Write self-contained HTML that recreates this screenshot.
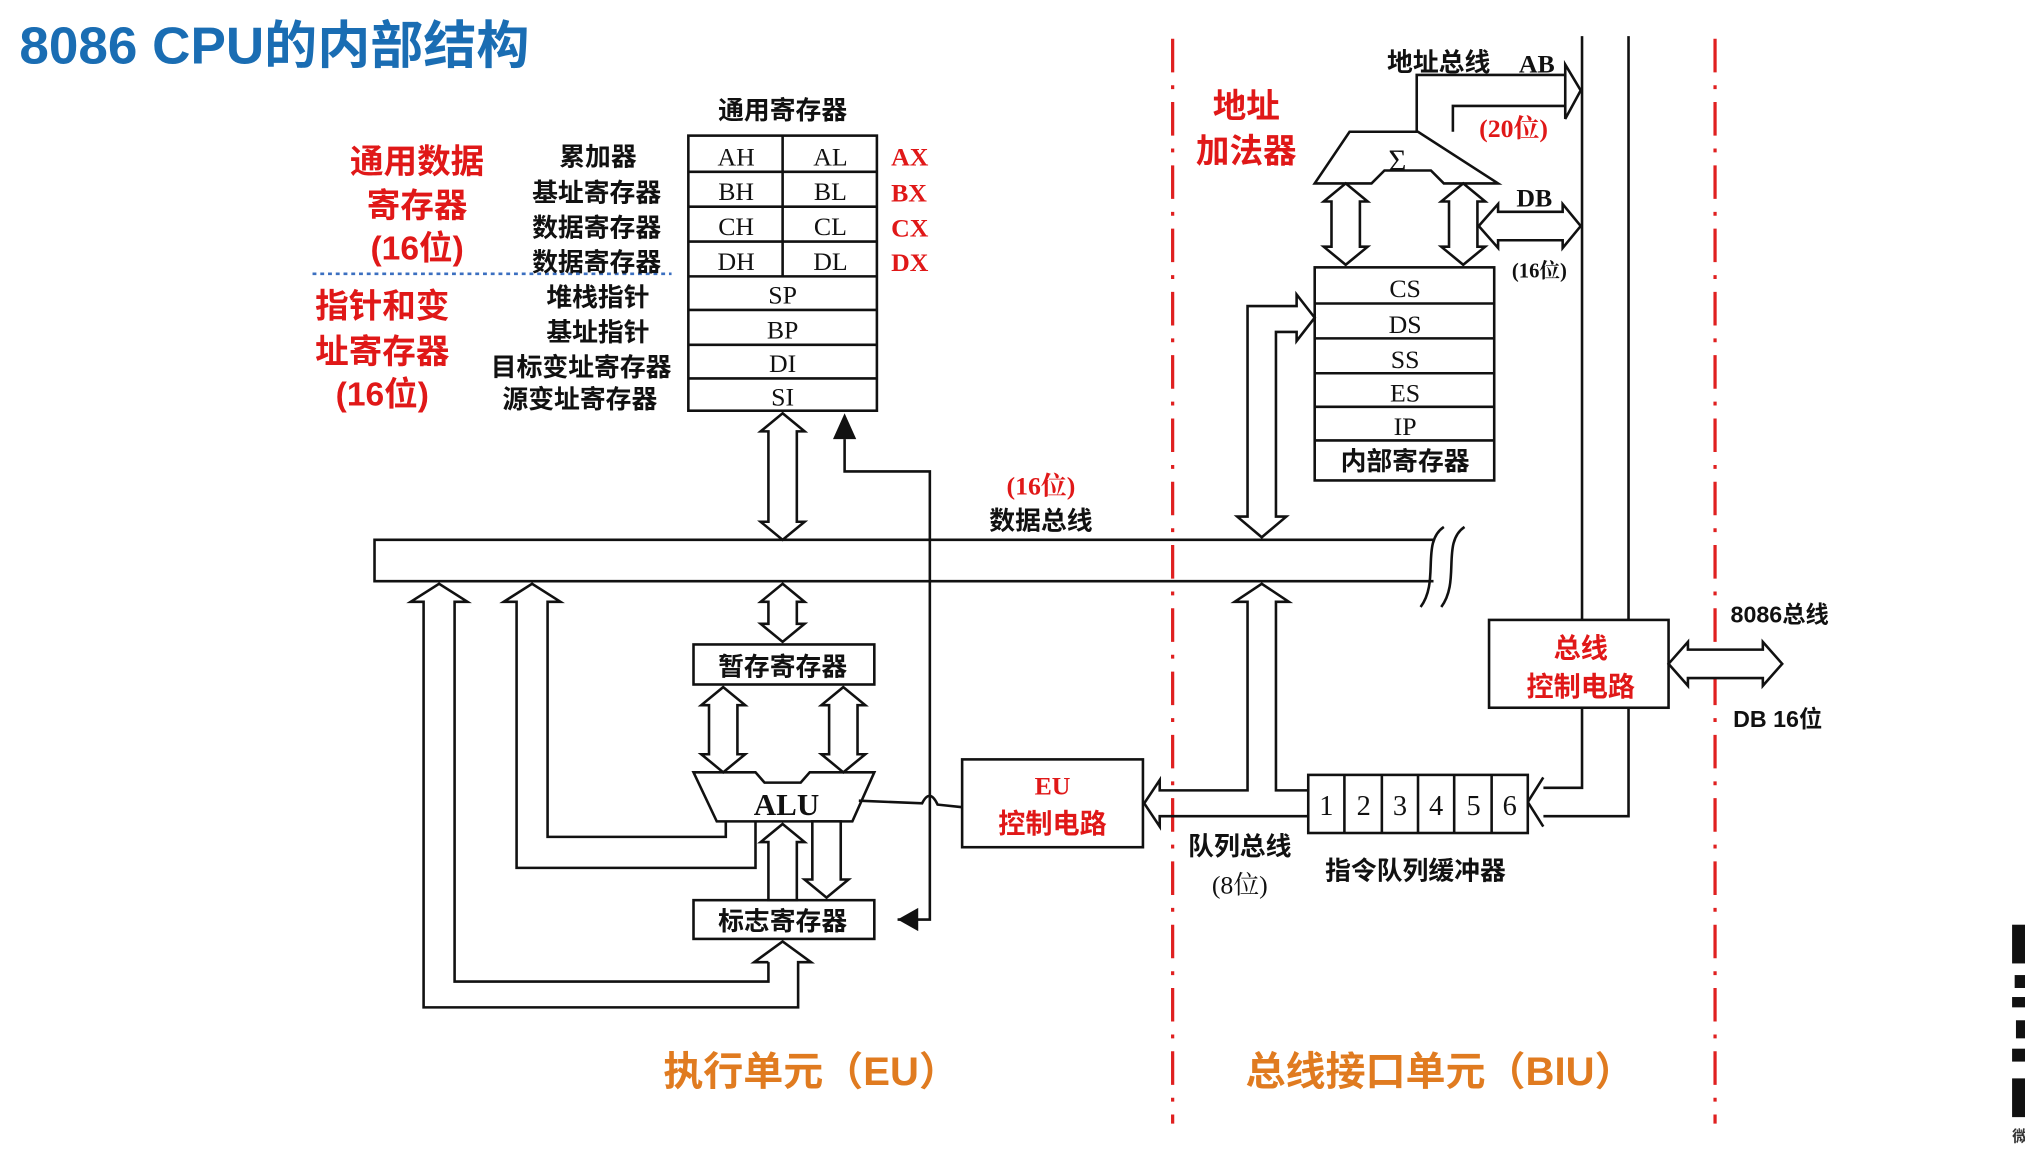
<!DOCTYPE html>
<html><head><meta charset="utf-8"><style>
html,body{margin:0;padding:0;background:#fff}
svg{display:block}
.cn{font-family:"Liberation Sans","Noto Sans CJK SC",sans-serif;font-weight:bold}
.sf{font-family:"Liberation Serif","Noto Serif CJK SC",serif}
</style></head><body>
<svg width="2025" height="1167" viewBox="0 0 1568 903.6" xmlns="http://www.w3.org/2000/svg">
<rect width="1568" height="904" fill="#fff"/>
<text x="15" y="49" class="cn" font-size="40" fill="#1a6db3" textLength="395" lengthAdjust="spacingAndGlyphs">8086 CPU的内部结构</text>

<g stroke="#e02020" stroke-width="2.5" stroke-dasharray="26,10,3,10" fill="none">
<line x1="908" y1="30" x2="908" y2="870"/>
<line x1="1328" y1="30" x2="1328" y2="870"/>
</g>

<g stroke="#111" stroke-width="2" fill="none">
<rect x="533" y="105" width="146" height="213" fill="#fff"/>
<line x1="533" y1="133" x2="679" y2="133"/><line x1="533" y1="160" x2="679" y2="160"/>
<line x1="533" y1="187" x2="679" y2="187"/><line x1="533" y1="214" x2="679" y2="214"/>
<line x1="533" y1="240" x2="679" y2="240"/><line x1="533" y1="267" x2="679" y2="267"/>
<line x1="533" y1="293" x2="679" y2="293"/>
<line x1="606" y1="105" x2="606" y2="214"/>
<path d="M1110 418 H290 V450 H1110"/>
<path d="M1118 408 C1100 420,1115 450,1100 470" />
<path d="M1134 408 C1116 420,1131 450,1116 470" />
<rect x="1018" y="207" width="139" height="165" fill="#fff"/>
<line x1="1018" y1="235" x2="1157" y2="235"/><line x1="1018" y1="262" x2="1157" y2="262"/>
<line x1="1018" y1="289" x2="1157" y2="289"/><line x1="1018" y1="315" x2="1157" y2="315"/>
<line x1="1018" y1="341" x2="1157" y2="341"/>
<path d="M1045 102 H1098 L1160 142 H1118 L1108 132 H1072 L1062 142 H1018 Z" fill="#fff"/>
<path d="M1097 102 V58 H1212"/><path d="M1125 102 V82 H1212"/>
<path d="M1212 50 L1224 70 L1212 92 Z" fill="#fff"/>
<path d="M1225 28 V480 M1225 548 V610 H1195"/>
<path d="M1261 28 V480 M1261 548 V632 H1195"/>
<path d="M1195 602 L1183 621 L1195 640" fill="#fff"/>
<rect x="1013" y="600" width="170" height="45" fill="#fff"/>
<line x1="1041" y1="600" x2="1041" y2="645"/><line x1="1070" y1="600" x2="1070" y2="645"/>
<line x1="1098" y1="600" x2="1098" y2="645"/><line x1="1126" y1="600" x2="1126" y2="645"/>
<line x1="1155" y1="600" x2="1155" y2="645"/>
<path d="M1013 612 H988 V466 L998 466 L977 452 L956 466 L966 466 V612 H898 V604 L886 622 L898 640 V632 H1013"/>
<path d="M966 400 V237 H1004 V228 L1018 246 L1004 264 V257 H988 V400 H996 L977 416 L958 400 Z" fill="#fff"/>
<rect x="745" y="588" width="140" height="68" fill="#fff"/>
<rect x="1153" y="480" width="139" height="68" fill="#fff"/>
<rect x="537" y="499" width="140" height="31" fill="#fff"/>
<path d="M537 598 H585 L592 606 H620 L627 598 H677 L660 636 H555 Z" fill="#fff"/>
<rect x="537" y="697" width="140" height="30" fill="#fff"/>
<path d="M665 620 L714 622 Q720 610 726 623 L745 625"/>
<path d="M654 340 V365 H720 V712 H695"/>
<path d="M562 636 V648 H424 V466 H434 L412 452 L390 466 H400 V672 H585 V636"/>
<path d="M595 745 V760 H352 V466 H362 L340 452 L318 466 H328 V780 H618 V745 H628 L606 729 L584 745 H595"/>
</g>
<line x1="242" y1="212" x2="520" y2="212" stroke="#3b6fc0" stroke-width="2" stroke-dasharray="3,3"/>
<polygon points="654,320 645,340 663,340" fill="#111"/>
<polygon points="695,712 711,703 711,721" fill="#111"/>

<g stroke="#111" stroke-width="2" fill="#fff">
<polygon points="606,320 623,334 617,334 617,404 623,404 606,418 589,404 595,404 595,334 589,334"/>
<polygon points="606,452 623,466 617,466 617,483 623,483 606,497 589,483 595,483 595,466 589,466"/>
<polygon points="560,532 577,546 571,546 571,584 577,584 560,598 543,584 549,584 549,546 543,546"/>
<polygon points="653,532 670,546 664,546 664,584 670,584 653,598 636,584 642,584 642,546 636,546"/>
<polygon points="1042,142 1059,156 1053,156 1053,191 1059,191 1042,205 1025,191 1031,191 1031,156 1025,156"/>
<polygon points="1133,142 1150,156 1144,156 1144,191 1150,191 1133,205 1116,191 1122,191 1122,156 1116,156"/>
<polygon points="1145,175 1160,158 1160,164 1210,164 1210,158 1224,175 1210,192 1210,186 1160,186 1160,192"/>
<polygon points="1292,514 1307,497 1307,503 1365,503 1365,497 1380,514 1365,531 1365,525 1307,525 1307,531"/>
<polygon points="606,638 623,652 617,652 617,697 595,697 595,652 589,652"/>
<polygon points="640,695 657,681 651,681 651,636 629,636 629,681 623,681"/>
</g>

<g class="cn" fill="#111" font-size="20" text-anchor="middle">
<text x="606" y="92">通用寄存器</text>
<text x="463" y="128">累加器</text>
<text x="462" y="156">基址寄存器</text>
<text x="462" y="183">数据寄存器</text>
<text x="462" y="210">数据寄存器</text>
<text x="463" y="237">堆栈指针</text>
<text x="463" y="264">基址指针</text>
<text x="450" y="291">目标变址寄存器</text>
<text x="449" y="316">源变址寄存器</text>
<text x="806" y="410">数据总线</text>
<text x="1114" y="55">地址总线</text>
<text x="1088" y="364">内部寄存器</text>
<text x="606" y="523">暂存寄存器</text>
<text x="606" y="720">标志寄存器</text>
<text x="960" y="662">队列总线</text>
<text x="1096" y="681">指令队列缓冲器</text>
</g>
<g class="sf" fill="#111" font-size="20" text-anchor="middle">
<text x="570" y="128">AH</text><text x="643" y="128">AL</text>
<text x="570" y="155">BH</text><text x="643" y="155">BL</text>
<text x="570" y="182">CH</text><text x="643" y="182">CL</text>
<text x="570" y="209">DH</text><text x="643" y="209">DL</text>
<text x="606" y="235">SP</text><text x="606" y="262">BP</text>
<text x="606" y="288">DI</text><text x="606" y="314">SI</text>
<text x="1088" y="230">CS</text><text x="1088" y="258">DS</text>
<text x="1088" y="285">SS</text><text x="1088" y="311">ES</text>
<text x="1088" y="337">IP</text>
<text x="1027" y="631" font-size="22">1</text><text x="1056" y="631" font-size="22">2</text>
<text x="1084" y="631" font-size="22">3</text><text x="1112" y="631" font-size="22">4</text>
<text x="1141" y="631" font-size="22">5</text><text x="1169" y="631" font-size="22">6</text>
<text x="609" y="631" font-size="24" font-weight="bold">ALU</text>
<text x="1190" y="56" font-weight="bold">AB</text>
<text x="1188" y="160" font-weight="bold">DB</text>
<text x="1192" y="215" font-size="16" font-weight="bold">(16位)</text>
<text x="960" y="692">(8位)</text>
<text x="1082" y="132" font-size="24">Σ</text>
</g>
<g class="cn" fill="#111" font-size="18">
<text x="1340" y="482">8086总线</text>
<text x="1342" y="563">DB  16位</text>
</g>
<g class="sf" fill="#e01818" font-size="20" font-weight="bold">
<text x="690" y="128">AX</text><text x="690" y="156">BX</text>
<text x="690" y="183">CX</text><text x="690" y="210">DX</text>
<text x="806" y="383" text-anchor="middle">(16位)</text>
<text x="1172" y="106" text-anchor="middle">(20位)</text>
<text x="815" y="615" text-anchor="middle">EU</text>
</g>
<g class="cn" fill="#e01818" text-anchor="middle">
<text x="323" y="134" font-size="26">通用数据</text>
<text x="323" y="168" font-size="26">寄存器</text>
<text x="323" y="201" font-size="26">(16位)</text>
<text x="296" y="246" font-size="26">指针和变</text>
<text x="296" y="281" font-size="26">址寄存器</text>
<text x="296" y="314" font-size="26">(16位)</text>
<text x="965" y="91" font-size="26">地址</text>
<text x="965" y="126" font-size="26">加法器</text>
<text x="815" y="645" font-size="21">控制电路</text>
<text x="1224" y="509" font-size="21">总线</text>
<text x="1224" y="539" font-size="21">控制电路</text>
</g>
<g class="cn" fill="#e07b20" font-size="31" text-anchor="middle">
<text x="628" y="840">执行单元（EU）</text>
<text x="1115" y="840">总线接口单元（BIU）</text>
</g>
<g fill="#111">
<rect x="1558" y="716" width="10" height="30"/>
<rect x="1560" y="755" width="8" height="10"/>
<rect x="1558" y="772" width="10" height="8"/>
<rect x="1561" y="790" width="7" height="14"/>
<rect x="1558" y="812" width="10" height="10"/>
<rect x="1558" y="835" width="10" height="30"/>
</g>
<text x="1558" y="884" class="cn" font-size="12" fill="#333">微</text>
</svg>
</body></html>
